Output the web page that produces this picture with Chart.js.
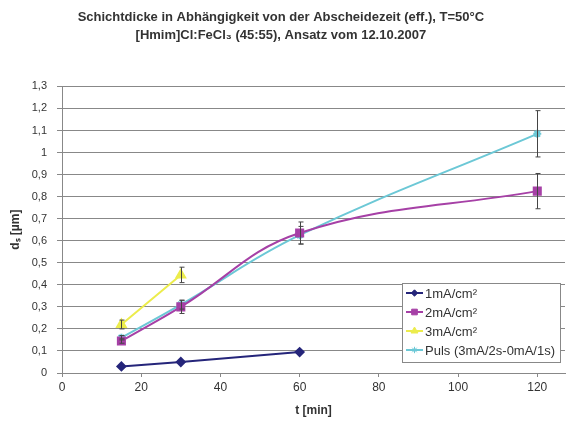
<!DOCTYPE html>
<html>
<head>
<meta charset="utf-8">
<script src="https://cdn.jsdelivr.net/npm/chart.js@4.4.0/dist/chart.umd.min.js"></script>
<style>
  html, body { margin: 0; padding: 0; background: #fff; }
  #wrap { width: 573px; height: 430px; }
</style>
</head>
<body>
<div id="wrap"><canvas id="myChart"></canvas></div>
<script>
// Chart data
const seriesNames = ["1mA/cm²", "2mA/cm²", "3mA/cm²", "Puls (3mA/2s-0mA/1s)"];
const xTickValues = [0, 20, 40, 60, 80, 100, 120];
const times1 = [15, 30, 60];
const thick1 = [0.03, 0.05, 0.095];
const times2 = [15, 30, 60, 120];
const thick2 = [0.145, 0.3, 0.635, 0.825];
const err2 = [0.01, 0.03, 0.05, 0.08];
const times3 = [15, 30];
const thick3 = [0.22, 0.445];
const err3 = [0.02, 0.035];
const timesP = [15, 30, 60, 120];
const thickP = [0.16, 0.31, 0.625, 1.085];
const errP = [0.01, 0.02, 0.04, 0.105];

const toPoints = (xs, ys) => xs.map((x, i) => ({ x: x, y: ys[i] }));

const fontName = "'Liberation Sans', Arial, sans-serif";

// Error bars drawn through the scales
const errorBars = {
  id: "errorBars",
  afterDatasetsDraw(chart) {
    const ctx = chart.ctx;
    const xs = chart.scales.x, ys = chart.scales.y;
    ctx.save();
    ctx.strokeStyle = "#444";
    ctx.lineWidth = 1;
    chart.data.datasets.forEach(ds => {
      if (!ds.errors) return;
      ds.data.forEach((p, i) => {
        const e = ds.errors[i];
        if (!e) return;
        const px = Math.round(xs.getPixelForValue(p.x)) + 0.5;
        const top = ys.getPixelForValue(p.y + e);
        const bot = ys.getPixelForValue(p.y - e);
        ctx.beginPath();
        ctx.moveTo(px, top);
        ctx.lineTo(px, bot);
        ctx.moveTo(px - 2, top);
        ctx.lineTo(px + 3, top);
        ctx.moveTo(px - 2, bot);
        ctx.lineTo(px + 3, bot);
        ctx.stroke();
      });
    });
    ctx.restore();
  }
};

// Legend box inside the plot, bottom right
const boxLegend = {
  id: "boxLegend",
  afterDraw(chart) {
    const ctx = chart.ctx;
    const left = 402, top = 283, w = 158, h = 79;
    ctx.save();
    ctx.fillStyle = "#fff";
    ctx.fillRect(left, top, w, h);
    ctx.strokeStyle = "#888";
    ctx.lineWidth = 1;
    ctx.strokeRect(left + 0.5, top + 0.5, w, h);
    chart.data.datasets.forEach((ds, i) => {
      const cy = top + 10 + i * 19;
      ctx.strokeStyle = ds.borderColor;
      ctx.lineWidth = 2;
      ctx.beginPath();
      ctx.moveTo(left + 4, cy);
      ctx.lineTo(left + 21, cy);
      ctx.stroke();
      ctx.fillStyle = ds.pointBackgroundColor;
      ctx.lineWidth = 1;
      Chart.helpers.drawPoint(ctx, {
        pointStyle: ds.pointStyle,
        radius: ds.pointRadius * 0.8,
        borderWidth: 1,
        rotation: 0
      }, left + 12.5, cy);
      ctx.fillStyle = "#333";
      ctx.font = "13px " + fontName;
      ctx.textBaseline = "middle";
      ctx.fillText(ds.label, left + 23, cy + 1);
    });
    ctx.restore();
  }
};

const ctx = document.getElementById("myChart").getContext("2d");
const myChart = new Chart(ctx, {
  type: "line",
  data: {
    datasets: [
      {
        label: seriesNames[0],
        data: toPoints(times1, thick1),
        borderColor: "#25257a",
        backgroundColor: "#25257a",
        pointBackgroundColor: "#25257a",
        pointStyle: "rectRot",
        pointRadius: 4,
        borderWidth: 2,
        tension: 0.3
      },
      {
        label: seriesNames[1],
        data: toPoints(times2, thick2),
        errors: err2,
        borderColor: "#a640a6",
        backgroundColor: "#a640a6",
        pointBackgroundColor: "#a640a6",
        pointStyle: "rect",
        pointRadius: 5,
        borderWidth: 2,
        tension: 0.4
      },
      {
        label: seriesNames[2],
        data: toPoints(times3, thick3),
        errors: err3,
        borderColor: "#ecec4c",
        backgroundColor: "#ecec4c",
        pointBackgroundColor: "#ecec4c",
        pointStyle: "triangle",
        pointRadius: 5,
        borderWidth: 2,
        tension: 0.3
      },
      {
        label: seriesNames[3],
        data: toPoints(timesP, thickP),
        errors: errP,
        borderColor: "#6cc8d6",
        backgroundColor: "#6cc8d6",
        pointBackgroundColor: "#6cc8d6",
        pointStyle: "star",
        pointRadius: 4,
        borderWidth: 2,
        tension: 0.4
      }
    ]
  },
  options: {
    responsive: true,
    maintainAspectRatio: false,
    animation: false,
    layout: { padding: { left: 4, right: 8, top: 0, bottom: 8 } },
    plugins: {
      legend: { display: false },
      tooltip: { enabled: false },
      title: {
        display: true,
        text: ["Schichtdicke in Abhängigkeit von der Abscheidezeit (eff.), T=50°C  ",
               "[Hmim]Cl:FeCl₃ (45:55), Ansatz vom 12.10.2007  "],
        color: "#333",
        font: { family: fontName, size: 13, weight: "bold", lineHeight: 1.4 },
        padding: { top: 8, bottom: 42 }
      }
    },
    scales: {
      x: {
        type: "linear",
        min: 0,
        max: 127,
        afterFit: scale => { scale.height = 49; },
        afterBuildTicks: scale => { scale.ticks = xTickValues.map(v => ({ value: v })); },
        border: { color: "#888" },
        grid: { drawOnChartArea: false, drawTicks: true, tickLength: 4, color: "#888" },
        ticks: {
          color: "#333",
          padding: 3,
          font: { family: fontName, size: 12 }
        },
        title: {
          display: true,
          text: "t [min]",
          color: "#333",
          font: { family: fontName, size: 12, weight: "bold" },
          padding: { top: 4 }
        }
      },
      y: {
        min: 0,
        max: 1.3,
        afterFit: scale => { scale.width = 58; },
        border: { color: "#888" },
        grid: { color: "#888", tickLength: 5 },
        ticks: {
          stepSize: 0.1,
          color: "#333",
          padding: 10,
          font: { family: fontName, size: 11 },
          callback: v => String(Math.round(v * 10) / 10).replace(".", ",")
        },
        title: {
          display: true,
          text: "dₛ [µm]",
          color: "#333",
          font: { family: fontName, size: 12, weight: "bold" },
          padding: { bottom: 4 }
        }
      }
    }
  },
  plugins: [errorBars, boxLegend]
});
</script>
</body>
</html>
